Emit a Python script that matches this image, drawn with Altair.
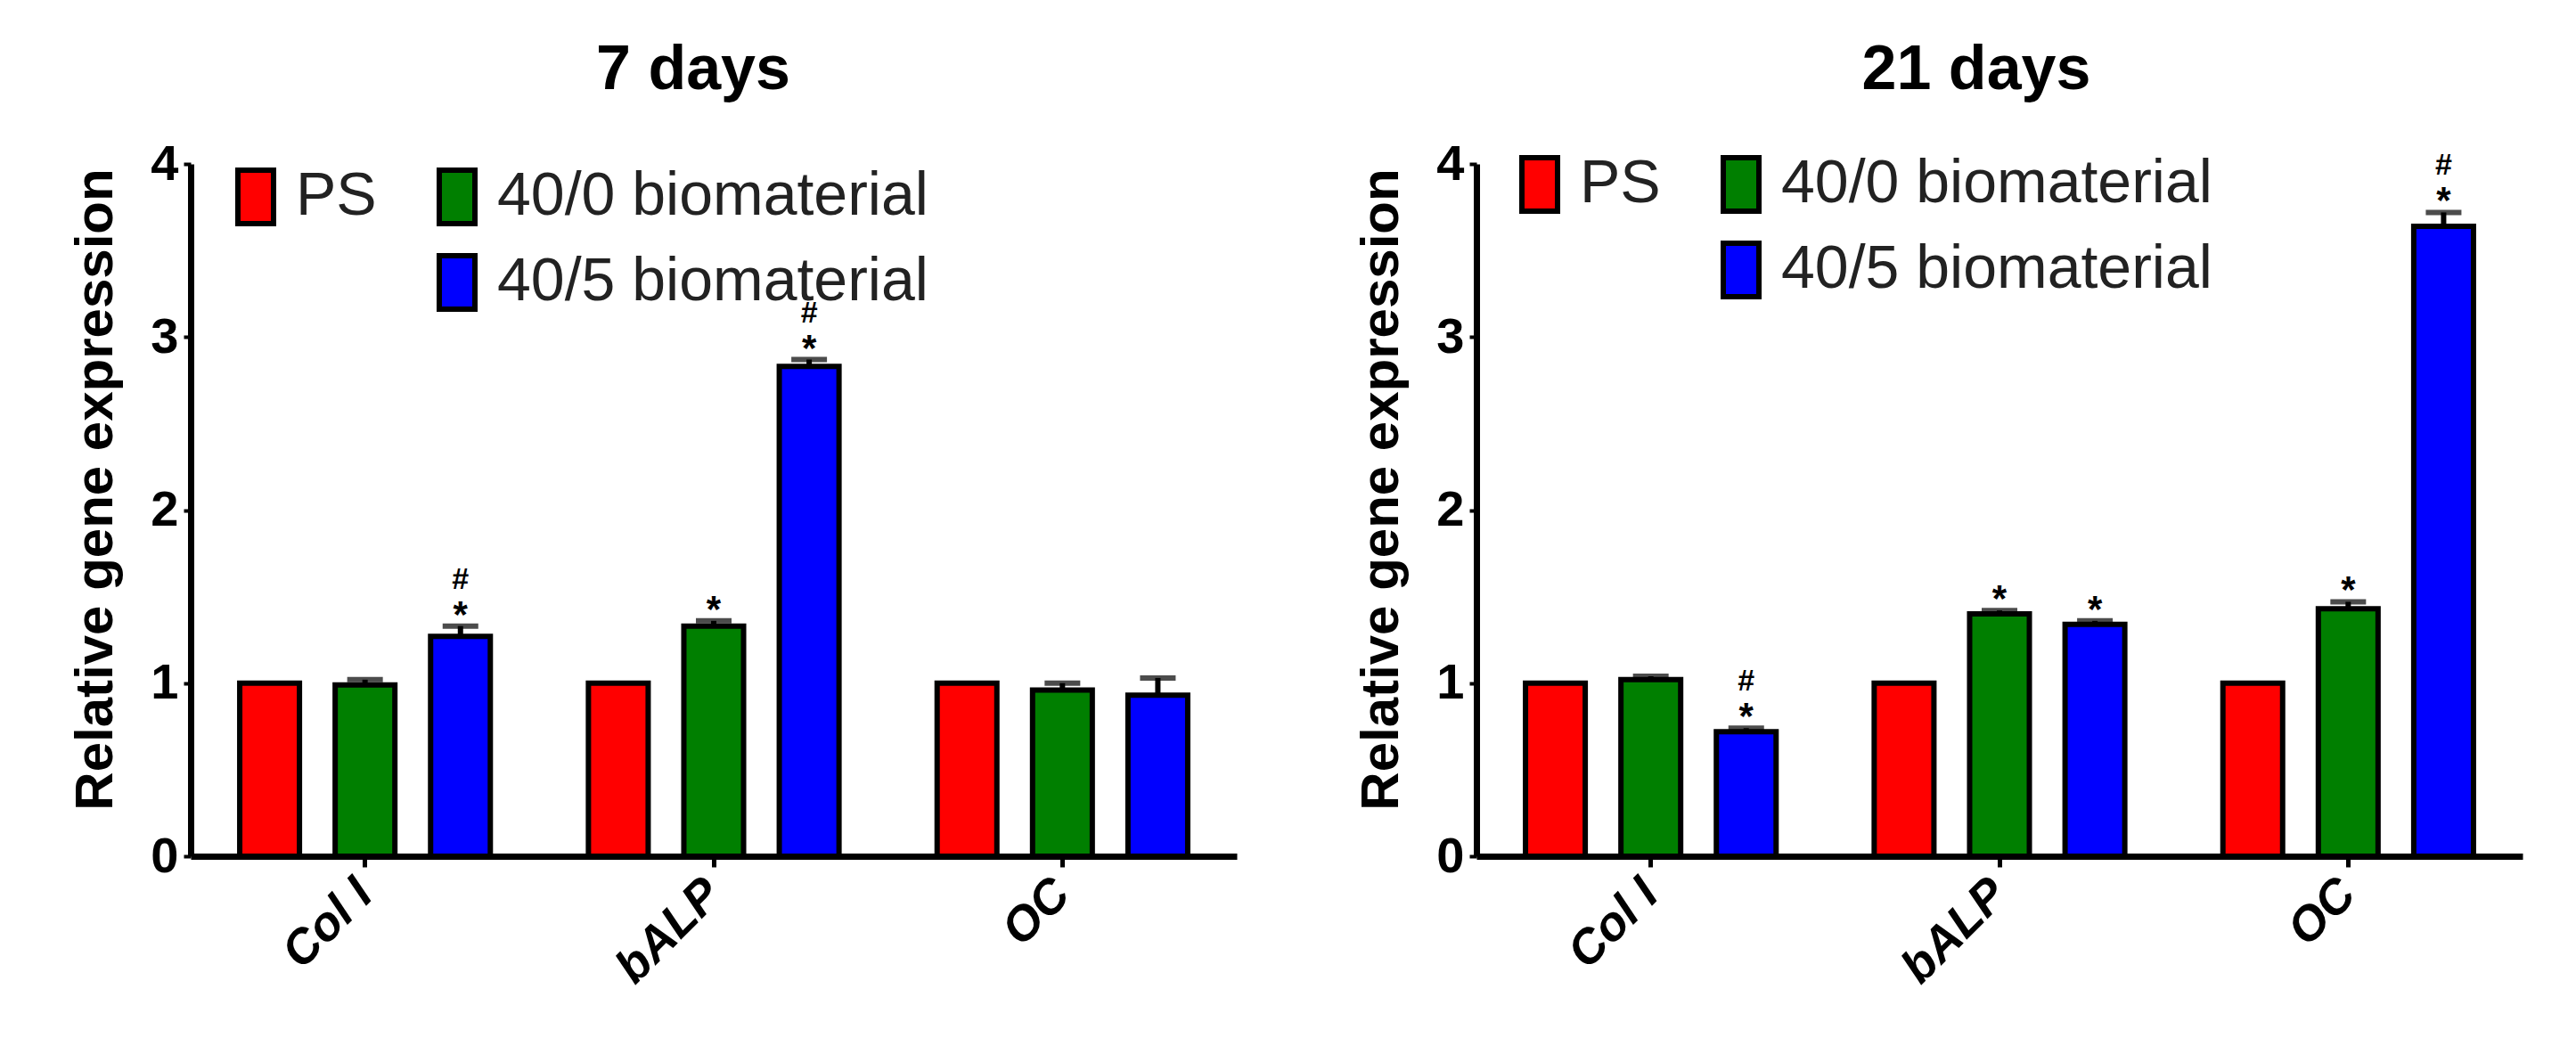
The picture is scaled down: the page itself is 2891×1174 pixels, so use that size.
import altair as alt
import pandas as pd

# ---------------- data ----------------
genes = ["Col I", "bALP", "OC"]
groups = ["PS", "40/0 biomaterial", "40/5 biomaterial"]
colors = ["#ff0000", "#007f00", "#0000ff"]

# 7 days
d7_ps = [1.0, 1.0, 1.0]
d7_ps_err = [0.0, 0.0, 0.0]
d7_400 = [0.99, 1.33, 0.96]
d7_400_err = [0.03, 0.03, 0.04]
d7_405 = [1.27, 2.83, 0.93]
d7_405_err = [0.06, 0.04, 0.10]
d7_ps_star = ["", "", ""]
d7_400_star = ["", "*", ""]
d7_405_star = ["*", "*", ""]
d7_ps_hash = ["", "", ""]
d7_400_hash = ["", "", ""]
d7_405_hash = ["#", "#", ""]

# 21 days
d21_ps = [1.0, 1.0, 1.0]
d21_ps_err = [0.0, 0.0, 0.0]
d21_400 = [1.02, 1.40, 1.43]
d21_400_err = [0.02, 0.02, 0.04]
d21_405 = [0.72, 1.34, 3.64]
d21_405_err = [0.02, 0.02, 0.08]
d21_ps_star = ["", "", ""]
d21_400_star = ["", "*", "*"]
d21_405_star = ["*", "*", "*"]
d21_ps_hash = ["", "", ""]
d21_400_hash = ["", "", ""]
d21_405_hash = ["#", "", "#"]

y_ticks = [0, 1, 2, 3, 4]


def make_df(vals, errs, stars, hashes):
    rows = []
    for gi, grp in enumerate(groups):
        for i, gene in enumerate(genes):
            rows.append({"gene": gene, "group": grp, "value": vals[gi][i],
                         "err": errs[gi][i], "star": stars[gi][i], "hash": hashes[gi][i]})
    return pd.DataFrame(rows)


df7 = make_df([d7_ps, d7_400, d7_405], [d7_ps_err, d7_400_err, d7_405_err],
              [d7_ps_star, d7_400_star, d7_405_star], [d7_ps_hash, d7_400_hash, d7_405_hash])
df21 = make_df([d21_ps, d21_400, d21_405], [d21_ps_err, d21_400_err, d21_405_err],
               [d21_ps_star, d21_400_star, d21_405_star], [d21_ps_hash, d21_400_hash, d21_405_hash])

# legend domain with an empty slot so that 40/5 sits under 40/0 (legend fills column by column)
leg_domain = ["PS", " ", "40/0 biomaterial", "40/5 biomaterial"]
fill_range = [colors[0], "transparent", colors[1], colors[2]]
stroke_range = ["black", "transparent", "black", "black"]

FONT = "Liberation Sans"


def panel(df, title, title_dx, leg_x, leg_y):
    base = alt.Chart(df)
    xaxis = alt.Axis(labelAngle=315, labelAlign="right", labelBaseline="middle",
                     labelFont=FONT, labelFontSize=54, labelFontWeight="bold",
                     labelFontStyle="italic", labelColor="black", labelPadding=22,
                     tickSize=12, tickWidth=5, tickColor="black",
                     domainColor="black", domainWidth=7, grid=False, title=None)
    x = alt.X("gene:N", sort=genes,
              scale=alt.Scale(domain=genes, paddingInner=0, paddingOuter=0),
              axis=xaxis, title=None)
    xo = alt.XOffset("group:N", sort=groups,
                     scale=alt.Scale(domain=groups, paddingInner=0.374, paddingOuter=0.514))
    yaxis = alt.Axis(values=y_ticks, format="d", labelFont=FONT, labelFontSize=56,
                     labelFontWeight="bold", labelColor="black", labelPadding=6,
                     labelFlush=False, tickSize=8, tickWidth=4, tickColor="black",
                     domainColor="black", domainWidth=7, grid=False,
                     title="Relative gene expression", titleFont=FONT, titleFontSize=60,
                     titleFontWeight="bold", titleColor="black",
                     titleX=-89, titleY=365, titleBaseline="alphabetic", titleAlign="center")
    yscale = alt.Scale(domain=[0, 4], nice=False, zero=True)

    def yenc(field):
        return alt.Y(field + ":Q", scale=yscale, axis=yaxis, title="Relative gene expression")

    leg = alt.Legend(orient="none", legendX=leg_x, legendY=leg_y, columns=2, title=None,
                     symbolType="M-0.667,-1H0.667V1H-0.667Z", symbolSize=3600,
                     symbolStrokeWidth=6, labelFont=FONT, labelFontSize=68,
                     labelColor="#222222", labelOffset=11, labelLimit=1000,
                     columnPadding=56, rowPadding=12, padding=0)

    bars = base.mark_bar(strokeWidth=6, strokeJoin="miter").encode(
        x=x, xOffset=xo, y=yenc("value"),
        fill=alt.Fill("group:N", scale=alt.Scale(domain=leg_domain, range=fill_range), legend=leg),
        stroke=alt.Stroke("group:N", scale=alt.Scale(domain=leg_domain, range=stroke_range), legend=leg),
    )
    eb = base.transform_filter("datum.err > 0").transform_calculate(top="datum.value + datum.err")
    rule = eb.mark_rule(strokeWidth=6, color="black").encode(
        x=x, xOffset=xo, y=yenc("value"), y2="top:Q")
    cap = eb.mark_tick(thickness=6, size=40, color="black").encode(
        x=x, xOffset=xo, y=yenc("top"))
    txt = base.transform_calculate(top="datum.value + datum.err")
    stars = txt.transform_filter("datum.star != ''").mark_text(
        font=FONT, fontSize=42, fontWeight="bold", color="black", baseline="middle", dy=-12
    ).encode(x=x, xOffset=xo, y=yenc("top"), text="star:N")
    hashes = txt.transform_filter("datum.hash != ''").mark_text(
        font=FONT, fontSize=34, fontWeight="bold", color="black", baseline="middle", dy=-52
    ).encode(x=x, xOffset=xo, y=yenc("top"), text="hash:N")

    return alt.layer(rule, cap, bars, stars, hashes).properties(
        width=1174, height=777,
        title=alt.TitleParams(title, font=FONT, fontSize=70, fontWeight="bold", color="black",
                              anchor="middle", frame="group", baseline="alphabetic",
                              offset=-14, dx=title_dx),
    )


left = panel(df7, "7 days", -23, 39, 3)
right = panel(df21, "21 days", -26, 37, -11)

chart = alt.hconcat(left, right, spacing=132).resolve_scale(
    fill="independent", stroke="independent"
).resolve_legend(
    fill="independent", stroke="independent"
).properties(
    padding={"left": 69, "top": 36, "right": 10, "bottom": 10},
    background="white",
).configure_view(stroke=None)

chart.save("out.html", embed_options={"renderer": "svg", "actions": False})
